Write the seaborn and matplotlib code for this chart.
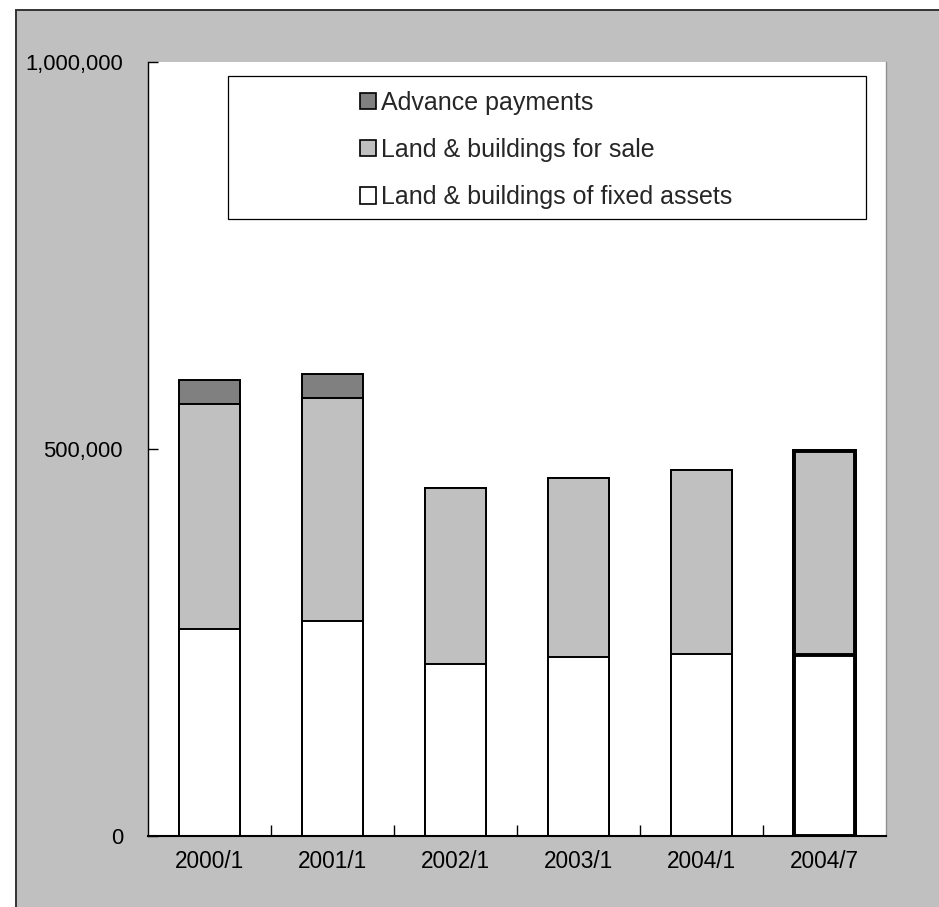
import matplotlib
matplotlib.use("Agg")
import matplotlib.pyplot as plt
from matplotlib.patches import Rectangle, Patch
from matplotlib.ticker import FuncFormatter, FixedLocator
import seaborn as sns
import numpy as np

# Balance (yen thousands) by reporting date
periods = ["2000/1", "2001/1", "2002/1", "2003/1", "2004/1", "2004/7"]
fixed_assets = [268000, 278000, 222000, 231000, 235000, 234000]
for_sale = [290000, 288000, 228000, 231000, 238000, 263000]
advance = [31000, 31000, 0, 0, 0, 0]

labels = ["Advance payments", "Land & buildings for sale",
          "Land & buildings of fixed assets"]
colors = ["#808080", "#c0c0c0", "#ffffff"]

sns.set_theme(style="white")
plt.rcParams["font.family"] = ["Liberation Sans", "DejaVu Sans"]

W, H = 939, 907
fig = plt.figure(figsize=(W / 100, H / 100), dpi=100)
fig.patch.set_facecolor("white")

# grey chart panel
fig.patches.append(Rectangle((16 / W, -0.05), 1.1, (H - 10) / H + 0.05,
                             transform=fig.transFigure, facecolor="#c0c0c0",
                             edgecolor="#333333", linewidth=1.4, zorder=-5))

ax = fig.add_axes([148 / W, (H - 836) / H, 738 / W, 774 / H])
ax.set_facecolor("white")

f = np.array(fixed_assets)
s = np.array(for_sale)
a = np.array(advance)
layers = [f + s + a, f + s, f]
for vals, col in zip(layers, colors):
    sns.barplot(x=periods, y=vals, color=col, saturation=1, width=0.5,
                edgecolor="black", linewidth=1.4, ax=ax)

# emphasise the latest period
for p in ax.patches:
    cx = p.get_x() + p.get_width() / 2
    if abs(cx - (len(periods) - 1)) < 0.1:
        p.set_linewidth(2.8)

ax.set_xlim(-0.5, len(periods) - 0.5)
ax.set_ylim(0, 1_000_000)
ax.set_yticks([0, 500_000, 1_000_000])
ax.yaxis.set_major_formatter(FuncFormatter(lambda v, _: f"{int(v):,}"))
ax.tick_params(axis="y", direction="in", length=7, width=1, color="black",
               pad=18, labelsize=15.8, labelcolor="black", left=True)
ax.tick_params(axis="x", which="major", length=0, pad=10, labelsize=16.3,
               labelcolor="black")
ax.xaxis.set_minor_locator(FixedLocator(np.arange(0.5, len(periods) - 1, 1)))
ax.tick_params(axis="x", which="minor", direction="in", length=8, width=1,
               color="black", bottom=True)
ax.set_xlabel("")
ax.set_ylabel("")

ax.spines["top"].set_visible(False)
ax.spines["right"].set_color("#909090")
ax.spines["right"].set_linewidth(1)
ax.spines["left"].set_color("black")
ax.spines["left"].set_linewidth(1)
ax.spines["bottom"].set_color("black")
ax.spines["bottom"].set_linewidth(1.5)

# legend box
ax.add_patch(Rectangle((0.108, 0.797), 0.865, 0.185, transform=ax.transAxes,
                       facecolor="white", edgecolor="black", linewidth=0.9,
                       zorder=4))
handles = [Patch(facecolor=c, edgecolor="black", linewidth=1.2) for c in colors]
leg = ax.legend(handles, labels, loc="upper left",
                bbox_to_anchor=(0.287, 0.963), frameon=False, fontsize=18,
                handlelength=0.64, handleheight=0.64, handletextpad=0.22,
                labelspacing=0.93, borderpad=0, borderaxespad=0)
leg.set_zorder(5)

fig.savefig("out.png", dpi=100)
